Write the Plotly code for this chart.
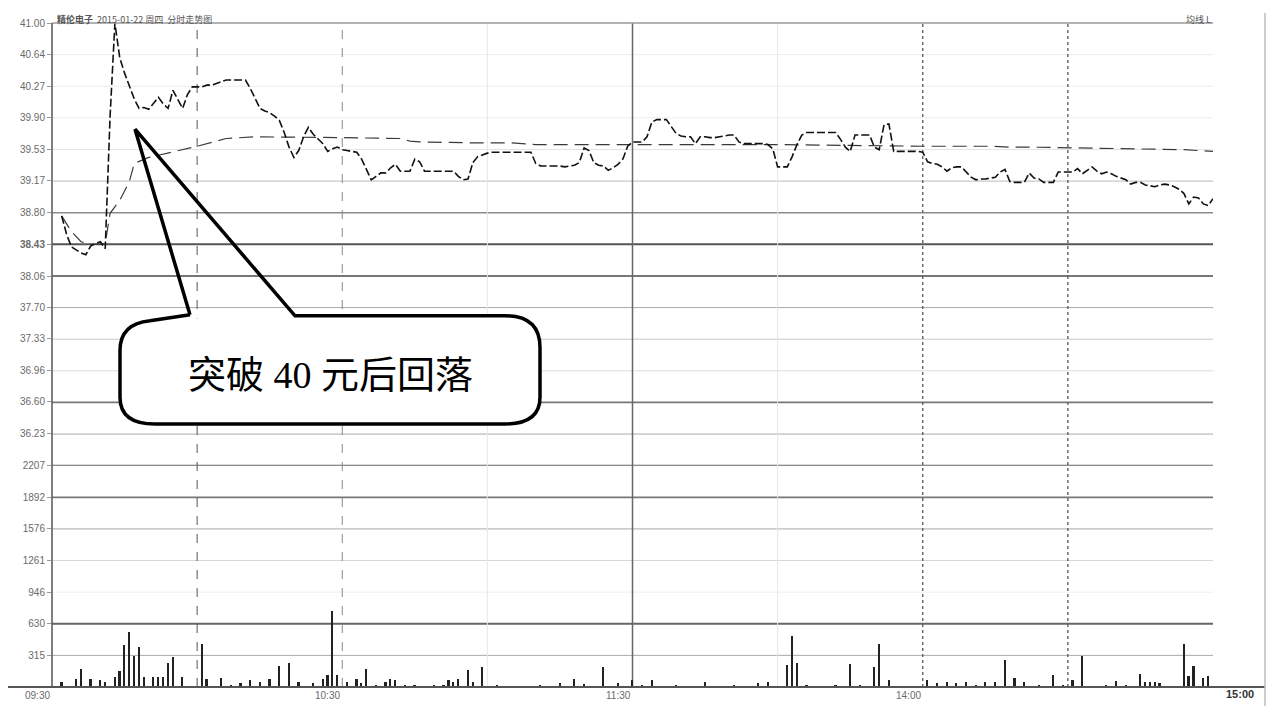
import plotly.graph_objects as go

# ---------------- data ----------------
pre_close = 38.43
price_step = 0.3675
vol_step = 315.3

price_ticks = [41.00, 40.64, 40.27, 39.90, 39.53, 39.17, 38.80, 38.43,
               38.06, 37.70, 37.33, 36.96, 36.60, 36.23]
pct_labels = ["6.69%", "5.74%", "4.78%", "3.82%", "2.87%", "1.91%", "0.96%", "0.00%",
              "0.96%", "1.91%", "2.87%", "3.82%", "4.78%", "5.74%"]
vol_ticks = [2207, 1892, 1576, 1261, 946, 630, 315]

time_labels = ["09:30", "10:30", "11:30", "14:00"]
time_label_minutes = [0, 60, 120, 180]

# price, one value per trading minute from minute 2 to minute 240
price_minutes = list(range(2, 241))
price = [
    38.76, 38.55, 38.40, 38.37, 38.33, 38.31, 38.41, 38.44, 38.46, 38.38,
    39.91, 41.00, 40.60, 40.42, 40.28, 40.12, 40.01, 40.02, 40.00, 40.07,
    40.14, 40.06, 40.01, 40.22, 40.12, 40.01, 40.17, 40.26, 40.26, 40.26,
    40.28, 40.28, 40.30, 40.32, 40.34, 40.34, 40.34, 40.34, 40.34, 40.24,
    40.12, 40.01, 39.98, 39.96, 39.92, 39.87, 39.73, 39.56, 39.44, 39.52,
    39.68, 39.79, 39.71, 39.65, 39.60, 39.51, 39.54, 39.56, 39.53, 39.52,
    39.51, 39.50, 39.42, 39.30, 39.18, 39.22, 39.26, 39.26, 39.32, 39.36,
    39.28, 39.28, 39.28, 39.42, 39.39, 39.28, 39.28, 39.28, 39.28, 39.28,
    39.28, 39.28, 39.22, 39.18, 39.19, 39.38, 39.45, 39.47, 39.49, 39.50,
    39.50, 39.50, 39.50, 39.50, 39.50, 39.50, 39.50, 39.50, 39.37, 39.34,
    39.34, 39.34, 39.34, 39.34, 39.33, 39.34, 39.35, 39.38, 39.55, 39.52,
    39.38, 39.35, 39.34, 39.29, 39.32, 39.36, 39.42, 39.57, 39.62, 39.62,
    39.62, 39.68, 39.85, 39.88, 39.88, 39.88, 39.80, 39.72, 39.69, 39.68,
    39.68, 39.60, 39.68, 39.68, 39.67, 39.67, 39.68, 39.69, 39.70, 39.70,
    39.62, 39.60, 39.60, 39.60, 39.60, 39.60, 39.59, 39.54, 39.33, 39.33,
    39.33, 39.45, 39.59, 39.70, 39.73, 39.73, 39.73, 39.73, 39.73, 39.73,
    39.73, 39.65, 39.56, 39.51, 39.70, 39.70, 39.70, 39.70, 39.56, 39.53,
    39.82, 39.83, 39.51, 39.51, 39.51, 39.51, 39.51, 39.51, 39.50, 39.39,
    39.37, 39.36, 39.33, 39.28, 39.32, 39.33, 39.33, 39.27, 39.21, 39.18,
    39.19, 39.19, 39.20, 39.21, 39.27, 39.30, 39.16, 39.15, 39.15, 39.15,
    39.26, 39.20, 39.19, 39.15, 39.15, 39.15, 39.27, 39.27, 39.27, 39.27,
    39.31, 39.25, 39.29, 39.33, 39.28, 39.25, 39.27, 39.25, 39.22, 39.20,
    39.18, 39.13, 39.15, 39.15, 39.12, 39.11, 39.10, 39.12, 39.13, 39.12,
    39.10, 39.07, 39.02, 38.90, 38.98, 38.97, 38.90, 38.88, 38.96,
]

avg_minutes = [2, 4, 6, 8, 10, 11, 12, 14, 16, 17, 20, 23, 30, 36, 42, 60, 67, 72, 74, 76,
               86, 95, 100, 120, 150, 165, 180, 194, 198, 202, 225, 234, 240]
avg_price = [38.76, 38.58, 38.46, 38.43, 38.43, 38.44, 38.79, 38.94, 39.16, 39.37, 39.44,
             39.48, 39.57, 39.66, 39.68, 39.67, 39.66, 39.66, 39.63, 39.62, 39.61, 39.61,
             39.59, 39.59, 39.59, 39.58, 39.57, 39.57, 39.56, 39.56, 39.54, 39.53, 39.51]

vol_minutes = [2, 5, 6, 8, 10, 11, 13, 14, 15, 16, 17, 18, 19, 21, 22, 23, 24, 25, 27, 31,
               32, 35, 37, 39, 41, 43, 45, 47, 49, 51, 54, 56, 57, 58, 59, 61, 63, 64, 65, 67,
               69, 70, 71, 73, 75, 77, 79, 80, 81, 82, 83, 84, 86, 87, 89, 92, 95, 98, 101, 105,
               108, 110, 114, 117, 120, 122, 124, 125, 127, 129, 131, 133, 135, 137, 139, 141, 143, 146, 148, 152,
               153, 154, 156, 158, 160, 162, 165, 167, 170, 171, 173, 175, 177, 181, 183, 185, 187, 189, 191, 193,
               195, 197, 199, 201, 204, 207, 209, 211, 213, 216, 218, 220, 222, 225, 226, 227, 228, 229, 231, 234,
               235, 236, 238, 239]
volume = [55, 88, 185, 88, 71, 55, 104, 162, 419, 549, 315, 403, 104, 104, 104, 104, 240, 305, 104, 429,
          88, 97, 23, 39, 71, 55, 88, 211, 240, 55, 39, 88, 120, 763, 120, 55, 88, 45, 185, 23,
          55, 88, 71, 23, 20, 18, 20, 15, 25, 71, 55, 88, 169, 55, 201, 23, 10, 12, 23, 39,
          88, 30, 201, 39, 78, 25, 71, 18, 15, 20, 18, 15, 55, 18, 15, 20, 18, 39, 55, 218,
          510, 240, 20, 15, 18, 20, 234, 20, 201, 435, 71, 15, 12, 71, 45, 55, 45, 55, 20, 55,
          55, 273, 97, 55, 20, 120, 25, 71, 308, 15, 20, 65, 20, 130, 55, 55, 50, 45, 15, 435,
          110, 211, 97, 110]

# ---------------- geometry helpers ----------------
# the page body adds an 8px margin, so the figure is shifted by that amount
OFF = 8
W, H = 1282 - 2 * OFF, 714 - 2 * OFF
PLOT_L, PLOT_R, PLOT_T, PLOT_B = 52, 1213, 18, 687   # screen pixels of the plot box
L, T = PLOT_L - OFF, PLOT_T - OFF
R = W - (PLOT_R - OFF)
B = H - (PLOT_B - OFF)
PW, PH = PLOT_R - PLOT_L, PLOT_B - PLOT_T


def pp(xp, yp):
    """screen pixel -> paper coordinates"""
    return (xp - PLOT_L) / PW, (PLOT_B - yp) / PH


def path(cmds):
    out = []
    for c in cmds:
        if isinstance(c, str):
            out.append(c)
        else:
            x, y = pp(*c)
            out.append(f"{x:.5f},{y:.5f}")
    return " ".join(out)


fig = go.Figure()

fig.add_trace(go.Bar(
    x=vol_minutes, y=volume, yaxis="y2", width=0.35,
    marker=dict(color="#222222", line=dict(width=0)), showlegend=False,
))
fig.add_trace(go.Scatter(
    x=avg_minutes, y=avg_price, mode="lines", yaxis="y",
    line=dict(color="#3a3a3a", width=1.2, dash="14px,7px"), showlegend=False,
))
fig.add_trace(go.Scatter(
    x=price_minutes, y=price, mode="lines", yaxis="y",
    line=dict(color="#111111", width=1.6, dash="8px,3px"), showlegend=False,
))

price_lo = pre_close - 7 * price_step
price_hi = pre_close + 7 * price_step
vol_hi = 7 * vol_step

tickfont = dict(family="Liberation Sans, DejaVu Sans", size=10, color="#6a6a6a")
price_text = [f"<b>{v:.2f}</b>" if abs(v - pre_close) < 1e-9 else f"{v:.2f}" for v in price_ticks]

fig.update_layout(
    width=W, height=H,
    margin=dict(l=L, r=R, t=T, b=B),
    paper_bgcolor="white", plot_bgcolor="white",
    bargap=0,
    xaxis=dict(range=[0, 240], showticklabels=False, showgrid=False, zeroline=False,
               showline=False, ticks="", anchor="y2"),
    yaxis=dict(domain=[1 / 3, 1], range=[price_lo, price_hi], tickvals=price_ticks,
               ticktext=price_text, ticks="outside", ticklen=4, tickcolor="#999",
               tickfont=tickfont, showgrid=False, zeroline=False, showline=False, anchor="x"),
    yaxis2=dict(domain=[0, 1 / 3], range=[0, vol_hi], tickvals=vol_ticks,
                ticktext=[str(v) for v in vol_ticks], ticks="outside", ticklen=4,
                tickcolor="#999", tickfont=tickfont, showgrid=False, zeroline=False,
                showline=False, anchor="x"),
    yaxis3=dict(overlaying="y", side="right", range=[price_lo, price_hi], tickvals=price_ticks,
                ticktext=pct_labels, tickfont=tickfont, showgrid=False, zeroline=False,
                showline=False, ticks="", anchor="x"),
    yaxis4=dict(overlaying="y2", side="right", range=[0, vol_hi], tickvals=vol_ticks,
                ticktext=[str(v) for v in vol_ticks], tickfont=tickfont, showgrid=False,
                zeroline=False, showline=False, ticks="", anchor="x"),
)

shapes = []
price_grid_style = {6: ("#ededed", 1), 5: ("#ededed", 1), 4: ("#ededed", 1), 3: ("#e4e4e4", 1),
                    2: ("#bdbdbd", 1), 1: ("#8c8c8c", 1.5), 0: ("#555555", 2),
                    -1: ("#777777", 2), -2: ("#aaaaaa", 1), -3: ("#c8c8c8", 1),
                    -4: ("#dddddd", 1), -5: ("#777777", 1.8), -6: ("#aaaaaa", 1),
                    -7: ("#666666", 2)}
for k, (col, w) in price_grid_style.items():
    yv = pre_close + k * price_step
    shapes.append(dict(type="line", xref="paper", yref="y", x0=0, x1=1, y0=yv, y1=yv,
                       line=dict(color=col, width=w), layer="below"))
vol_grid_style = {6: ("#777777", 1.8), 5: ("#aaaaaa", 1), 4: ("#d8d8d8", 1),
                  3: ("#eeeeee", 1), 2: ("#666666", 1.8), 1: ("#aaaaaa", 1)}
for k, (col, w) in vol_grid_style.items():
    yv = k * vol_step
    shapes.append(dict(type="line", xref="paper", yref="y2", x0=0, x1=1, y0=yv, y1=yv,
                       line=dict(color=col, width=w), layer="below"))
shapes.append(dict(type="line", xref="paper", yref="paper", x0=0, x1=1, y0=1, y1=1,
                   line=dict(color="#9a9a9a", width=1.5)))
vstyles = {30: ("#555555", "dash", 1), 60: ("#888888", "dash", 1), 90: ("#e6e6e6", "solid", 1),
           120: ("#666666", "solid", 1.5), 150: ("#e6e6e6", "solid", 1),
           180: ("#555555", "dot", 1.3), 210: ("#555555", "dot", 1.3)}
for m, (col, dash, w) in vstyles.items():
    shapes.append(dict(type="line", xref="x", yref="paper", x0=m, x1=m, y0=0, y1=1,
                       line=dict(color=col, width=w, dash=dash), layer="below"))
shapes.append(dict(type="line", xref="paper", yref="paper", x0=0, x1=0, y0=0, y1=1,
                   line=dict(color="#555555", width=1.5)))
bx0, by = pp(OFF, 687)
bx1, _ = pp(1265, 687)
shapes.append(dict(type="line", xref="paper", yref="paper", x0=bx0, x1=bx1, y0=by, y1=by,
                   line=dict(color="#555555", width=2)))
fx, fy0 = pp(1265, 706)
_, fy1 = pp(1265, OFF)
shapes.append(dict(type="line", xref="paper", yref="paper", x0=fx, x1=fx, y0=fy0, y1=fy1,
                   line=dict(color="#bbbbbb", width=1.5)))

box = path(["M", (150, 316), "L", (505, 313), "Q", (540, 313), (540, 345), "L", (540, 395),
            "Q", (540, 422), (505, 422), "L", (155, 422), "Q", (120, 422), (120, 395),
            "L", (120, 348), "Q", (120, 320), (150, 316), "Z"])
shapes.append(dict(type="path", xref="paper", yref="paper", path=box, fillcolor="white",
                   line=dict(width=0), layer="above"))
outline = path(["M", (190, 312), "L", (135, 125), "L", (295, 313), "L", (505, 313),
                "Q", (540, 313), (540, 345), "L", (540, 395), "Q", (540, 422), (505, 422),
                "L", (155, 422), "Q", (120, 422), (120, 395), "L", (120, 348),
                "Q", (120, 321), (150, 318), "L", (190, 312)])
shapes.append(dict(type="path", xref="paper", yref="paper", path=outline,
                   fillcolor="rgba(0,0,0,0)", line=dict(color="black", width=3.5), layer="above"))
fig.update_layout(shapes=shapes)

annotations = []
tx, ty = pp(330, 373)
annotations.append(dict(xref="paper", yref="paper", x=tx, y=ty, text="突破 40 元后回落",
                        showarrow=False, xanchor="center", yanchor="middle",
                        font=dict(family="Liberation Serif, Noto Sans CJK SC", size=38, color="black")))
for lab, m in zip(time_labels, time_label_minutes):
    annotations.append(dict(xref="x", yref="paper", x=m, y=0, text=lab, showarrow=False,
                            xanchor="right", yanchor="top", yshift=-1,
                            font=dict(family="Liberation Sans, DejaVu Sans", size=10, color="#6a6a6a")))
ex, ey = pp(1240, 694)
annotations.append(dict(xref="paper", yref="paper", x=ex, y=ey, text="<b>15:00</b>",
                        showarrow=False, xanchor="center", yanchor="middle",
                        font=dict(family="Liberation Sans", size=11, color="#333")))
hx, hy = pp(56, 14)
annotations.append(dict(xref="paper", yref="paper", x=hx, y=hy,
                        text="<b>精伦电子</b>  2015-01-22 周四  分时走势图",
                        showarrow=False, xanchor="left", yanchor="middle", borderpad=0,
                        font=dict(family="Noto Sans CJK SC, Liberation Sans", size=9, color="#555")))
rx, ry = pp(1212, 14)
annotations.append(dict(xref="paper", yref="paper", x=rx, y=ry, text="均线 L",
                        showarrow=False, xanchor="right", yanchor="middle", borderpad=0,
                        font=dict(family="Noto Sans CJK SC, Liberation Sans", size=9, color="#555")))
fig.update_layout(annotations=annotations)

fig.write_html("out.html")
